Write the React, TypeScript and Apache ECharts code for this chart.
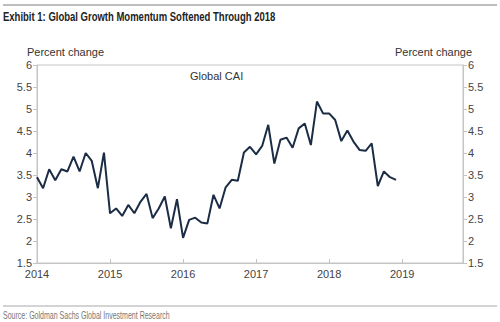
import React, { useEffect, useRef } from "react";
import * as echarts from "echarts";

const years = ["2014", "2015", "2016", "2017", "2018", "2019"];
const monthsPerYear = 12;
const lastYearMonths = 11; // axis runs to Nov 2019
const yTicks = [1.5, 2, 2.5, 3, 3.5, 4, 4.5, 5, 5.5, 6];

const globalCAI = [
  3.45, 3.2, 3.63, 3.38, 3.63, 3.58, 3.92, 3.58, 4.0, 3.82, 3.2, 4.01,
  2.63, 2.74, 2.57, 2.82, 2.63, 2.89, 3.07, 2.52, 2.74, 3.01, 2.29, 2.95,
  2.07, 2.48, 2.53, 2.42, 2.4, 3.05, 2.74, 3.22, 3.39, 3.37, 4.01, 4.14,
  3.97, 4.16, 4.64, 3.76, 4.3, 4.35, 4.12, 4.56, 4.67, 4.18, 5.17, 4.9,
  4.9, 4.75, 4.27, 4.51, 4.26, 4.07, 4.05, 4.22, 3.25, 3.58, 3.45, 3.39,
];

const categories: string[] = [];
years.forEach((y, yi) => {
  const n = yi === years.length - 1 ? lastYearMonths : monthsPerYear;
  for (let m = 1; m <= n; m++) categories.push(`${y}-${String(m).padStart(2, "0")}`);
});

export default function App() {
  const ref = useRef<HTMLDivElement>(null);
  useEffect(() => {
    document.body.style.margin = "0";
    const chart = echarts.init(ref.current!, null, { renderer: "svg" });
    const labelFont = "Liberation Sans, Arial, sans-serif";
    const yAxisCommon = {
      type: "value" as const,
      min: 1.5,
      max: 6,
      interval: 0.5,
      splitLine: { show: false },
      axisLine: { show: true, lineStyle: { color: "#c4c4c4" } },
      axisTick: { show: true, length: 4, lineStyle: { color: "#c4c4c4" } },
      axisLabel: {
        color: "#444",
        fontSize: 11,
        fontFamily: labelFont,
        margin: 5,
        formatter: (v: number) => (yTicks.includes(v) ? String(v) : ""),
      },
    };
    chart.setOption({
      animation: false,
      backgroundColor: "#fff",
      grid: {
        left: 37,
        right: 37,
        top: 65,
        bottom: 59,
        show: true,
        borderColor: "#c4c4c4",
        borderWidth: 1,
      },
      graphic: [
        { type: "line", shape: { x1: 3, y1: 5, x2: 497, y2: 5 }, style: { stroke: "#a8a8a8", lineWidth: 1.5 } },
        { type: "line", shape: { x1: 3, y1: 306, x2: 497, y2: 306 }, style: { stroke: "#a8a8a8", lineWidth: 1 } },
        {
          type: "text",
          x: 3,
          y: 9,
          scaleX: 0.705,
          style: { text: "Exhibit 1: Global Growth Momentum Softened Through 2018", font: `bold 13.5px ${labelFont}`, fill: "#222" },
        },
        {
          type: "text",
          left: 27,
          top: 46,
          style: { text: "Percent change", font: `11px ${labelFont}`, fill: "#333" },
        },
        {
          type: "text",
          right: 28,
          top: 46,
          style: { text: "Percent change", font: `11px ${labelFont}`, fill: "#333" },
        },
        {
          type: "text",
          left: 190,
          top: 70,
          style: { text: "Global CAI", font: `11px ${labelFont}`, fill: "#333" },
        },
        {
          type: "text",
          x: 3,
          y: 310,
          scaleX: 0.67,
          style: { text: "Source: Goldman Sachs Global Investment Research", font: `10.5px ${labelFont}`, fill: "#777" },
        },
      ],
      xAxis: {
        type: "category",
        data: categories,
        boundaryGap: false,
        axisLine: { show: true, lineStyle: { color: "#c4c4c4" } },
        axisTick: {
          show: true,
          inside: true,
          length: 4,
          interval: (i: number) => i % monthsPerYear === 0,
          lineStyle: { color: "#c4c4c4" },
        },
        axisLabel: {
          color: "#444",
          fontSize: 11,
          fontFamily: labelFont,
          margin: 5,
          interval: (i: number) => i % monthsPerYear === 0,
          formatter: (v: string) => v.slice(0, 4),
        },
        splitLine: { show: false },
      },
      yAxis: [
        { ...yAxisCommon, position: "left" },
        { ...yAxisCommon, position: "right" },
      ],
      series: [
        {
          type: "line",
          name: "Global CAI",
          data: globalCAI,
          yAxisIndex: 0,
          showSymbol: false,
          lineStyle: { color: "#1b2c45", width: 2 },
        },
      ],
    });
    return () => chart.dispose();
  }, []);
  return <div ref={ref} style={{ width: 500, height: 322 }} />;
}
